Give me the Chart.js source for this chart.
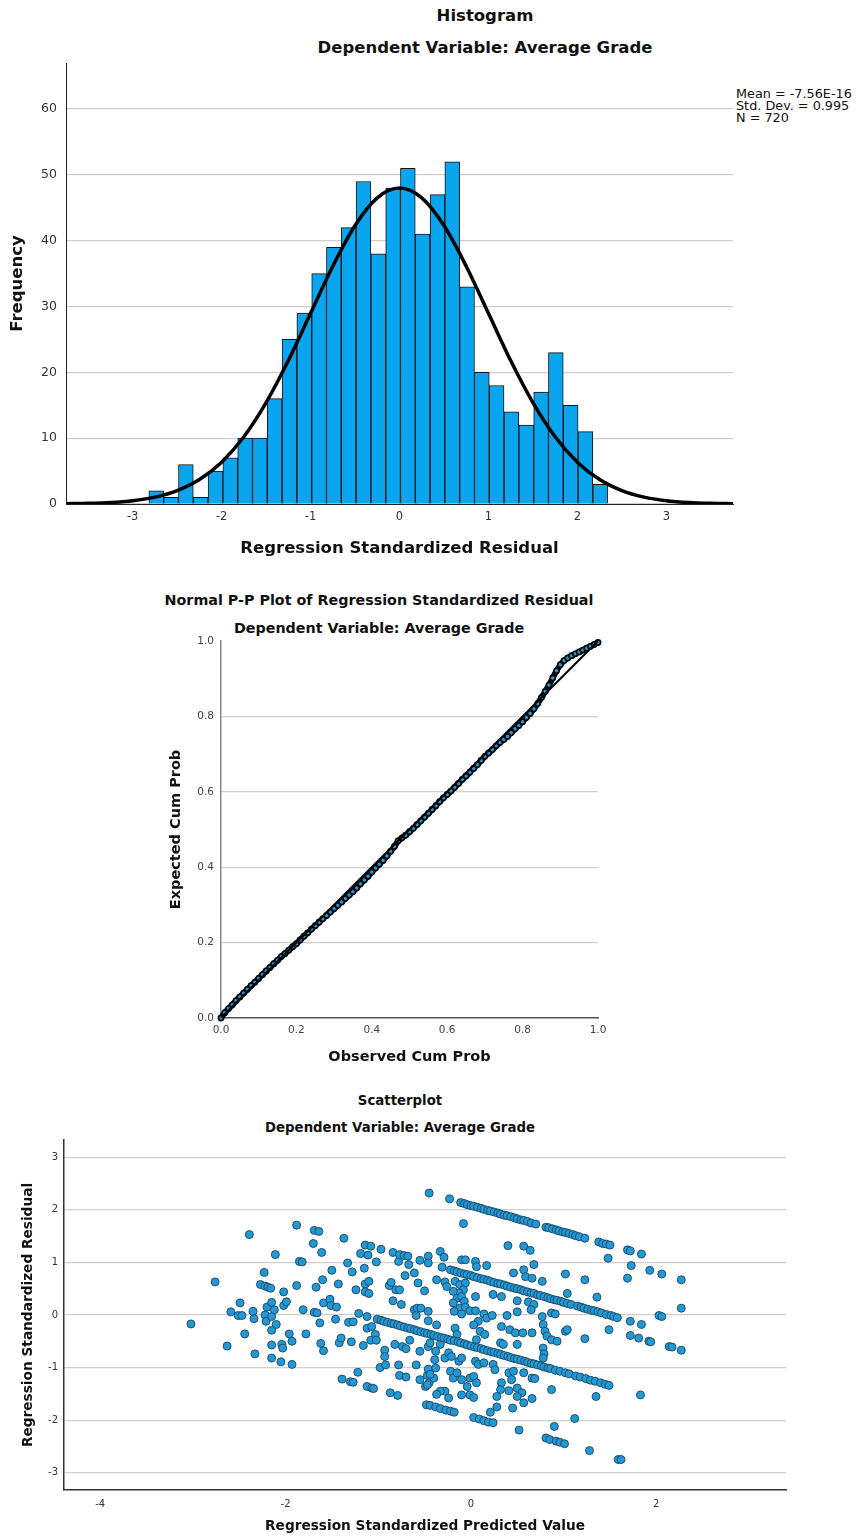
<!DOCTYPE html>
<html>
<head>
<meta charset="utf-8">
<title>Regression residual charts</title>
<script src="https://cdn.jsdelivr.net/npm/chart.js@4.4.1/dist/chart.umd.min.js"></script>
<style>
  body { margin: 0; background: #fff; width: 858px; height: 1537px; position: relative; overflow: hidden;
         font-family: "DejaVu Sans", sans-serif; color: #111; }
  .ttl { position: absolute; width: 700px; text-align: center; font-weight: bold; white-space: nowrap; }
  canvas { position: absolute; left: 0; }
  #stats { position: absolute; left: 736px; top: 88px; white-space: nowrap;
           font: 12.8px/12px "DejaVu Sans", sans-serif; color: #111; }
</style>
</head>
<body>

<div class="ttl" style="left:135px;top:6px;font-size:16.5px;line-height:20px">Histogram</div>
<div class="ttl" style="left:135px;top:38px;font-size:16.5px;line-height:20px">Dependent Variable: Average Grade</div>
<div id="stats">Mean = -7.56E-16<br>Std. Dev. = 0.995<br>N = 720</div>
<canvas id="hist" width="858" height="570" style="top:0"></canvas>

<div class="ttl" style="left:29px;top:591px;font-size:14.3px;line-height:18px">Normal P-P Plot of Regression Standardized Residual</div>
<div class="ttl" style="left:29px;top:619px;font-size:14.3px;line-height:18px">Dependent Variable: Average Grade</div>
<canvas id="pp" width="858" height="500" style="top:580px"></canvas>

<div class="ttl" style="left:50px;top:1093px;font-size:13.3px;line-height:16px">Scatterplot</div>
<div class="ttl" style="left:50px;top:1120px;font-size:13.3px;line-height:16px">Dependent Variable: Average Grade</div>
<canvas id="scat" width="858" height="447" style="top:1090px"></canvas>

<script>
// histogram bins (centre of each bin) and counts, N = 720
var binMid = [-2.735,-2.569,-2.402,-2.236,-2.069,-1.903,-1.736,-1.570,-1.404,-1.237,-1.071,
              -0.904,-0.738,-0.572,-0.405,-0.239,-0.072,0.094,0.260,0.427,0.593,0.760,
              0.926,1.092,1.259,1.425,1.592,1.758,1.925,2.091,2.257];
var binCount = [2,1,6,1,5,7,10,10,16,25,29,35,39,42,49,38,48,51,41,47,52,33,20,18,14,12,17,23,15,11,3];

// normal curve
var curveX = [-3.75,-3.5,-3.25,-3,-2.75,-2.5,-2.25,-2,-1.75,-1.5,-1.25,-1,-0.75,-0.5,-0.25,0,
              0.25,0.5,0.75,1,1.25,1.5,1.75,2,2.25,2.5,2.75,3,3.25,3.5,3.75];
var curveY = [0.04,0.10,0.23,0.51,1.05,2.04,3.72,6.36,10.22,15.41,21.80,28.97,36.13,42.31,46.51,48.00,
              46.51,42.31,36.13,28.97,21.80,15.41,10.22,6.36,3.72,2.04,1.05,0.51,0.23,0.10,0.04];

// P-P plot
var ppObserved = [0.00,0.01,0.02,0.03,0.04,0.05,0.06,0.07,0.08,0.09,0.10,0.11,0.12,0.13,0.14,0.15,0.16,0.17,0.18,0.19,
                  0.20,0.21,0.22,0.23,0.24,0.25,0.26,0.27,0.28,0.29,0.30,0.31,0.32,0.33,0.34,0.35,0.36,0.37,0.38,0.39,
                  0.40,0.41,0.42,0.43,0.44,0.45,0.46,0.47,0.48,0.49,0.50,0.51,0.52,0.53,0.54,0.55,0.56,0.57,0.58,0.59,
                  0.60,0.61,0.62,0.63,0.64,0.65,0.66,0.67,0.68,0.69,0.70,0.71,0.72,0.73,0.74,0.75,0.76,0.77,0.78,0.79,
                  0.80,0.81,0.82,0.83,0.84,0.85,0.86,0.87,0.88,0.89,0.90,0.91,0.92,0.93,0.94,0.95,0.96,0.97,0.98,0.99,1.00];
var ppExpected = [0.000,0.014,0.025,0.035,0.046,0.056,0.066,0.076,0.086,0.095,0.105,0.115,0.125,0.134,0.144,0.153,0.163,0.171,0.180,0.189,
                  0.197,0.207,0.217,0.226,0.236,0.245,0.254,0.263,0.272,0.281,0.290,0.299,0.308,0.317,0.326,0.335,0.345,0.356,0.366,0.376,
                  0.387,0.398,0.408,0.418,0.430,0.442,0.455,0.470,0.478,0.485,0.494,0.503,0.513,0.523,0.533,0.543,0.553,0.563,0.574,0.584,
                  0.593,0.602,0.612,0.622,0.633,0.642,0.652,0.662,0.672,0.683,0.694,0.703,0.712,0.722,0.731,0.739,0.747,0.757,0.767,0.776,
                  0.786,0.797,0.808,0.820,0.834,0.850,0.866,0.883,0.902,0.921,0.937,0.948,0.955,0.961,0.966,0.971,0.976,0.981,0.986,0.991,0.996];

// scatterplot: [predicted, residual]
var cloudLeft = [[-3.02,-0.17],[-2.76,0.63],[-2.63,-0.59],[-2.59,0.06],[-2.51,-0.01],[-2.49,0.23],[-2.47,-0.01],[-2.44,-0.36],
  [-2.39,1.53],[-2.35,0.07],[-2.34,-0.07],[-2.33,-0.74],[-2.27,0.58],[-2.23,0.81],[-2.22,0.55],[-2.22,0.00],[-2.21,-0.12],
  [-2.20,0.15],[-2.19,0.53],[-2.16,0.51],[-2.15,0.24],[-2.15,-0.03],[-2.15,-0.29],[-2.15,-0.57],[-2.15,-0.82],[-2.12,0.10],
  [-2.11,1.15],[-2.10,-0.18],[-2.05,-0.89],[-2.04,-0.56],[-2.03,-0.63],[-2.02,0.44],[-2.02,0.18],[-1.99,0.25],[-1.96,-0.36],
  [-1.93,-0.50],[-1.93,-0.94],[-1.88,1.71],[-1.88,0.56],[-1.85,1.02],[-1.82,1.01],[-1.81,0.10],[-1.78,-0.36],[-1.70,1.36],
  [-1.69,1.61],[-1.69,0.05],[-1.67,0.53],[-1.66,0.04],[-1.64,1.59],[-1.63,-0.15],[-1.62,-0.54],[-1.61,1.19],[-1.60,0.67],
  [-1.59,-0.68],[-1.59,0.23],[-1.52,0.30],[-1.51,0.18],[-1.50,0.85],[-1.46,-0.08],[-1.45,0.15],[-1.43,0.59],[-1.42,-0.53],
  [-1.40,-0.44],[-1.39,-1.22],[-1.37,1.46],[-1.33,0.99],[-1.32,-0.14],[-1.30,-1.27],[-1.29,-0.51],[-1.27,-1.28],[-1.28,0.82],
  [-1.27,-0.13],[-1.24,0.48],[-1.22,-1.09],[-1.21,0.03],[-1.19,1.17],[-1.16,-0.58],[-1.15,0.89],[-1.14,0.59],[-1.14,1.33],
  [-1.14,0.44],[-1.12,-1.36],[-1.12,-0.03],[-1.12,-0.25],[-1.11,1.14],[-1.10,0.64],[-1.10,0.41],[-1.08,1.31],[-1.08,-0.48],
  [-1.07,-1.39],[-1.07,-0.22],[-1.05,-1.40],[-1.03,-0.37],[-1.02,1.01],[-1.02,-0.48]];
var cloudCentre = [[-0.98,-1.00],[-0.97,1.25],[-0.93,-0.67],[-0.93,-0.79],[-0.92,-0.95],[-0.88,0.56],[-0.87,-1.48],[-0.86,0.62],
  [-0.84,1.19],[-0.84,0.27],[-0.82,-0.56],[-0.81,0.48],[-0.79,-1.53],[-0.78,1.02],[-0.78,-0.95],[-0.77,1.15],[-0.77,0.48],
  [-0.77,-1.15],[-0.75,0.20],[-0.74,-0.60],[-0.72,1.13],[-0.71,0.75],[-0.70,-1.18],[-0.70,-0.64],[-0.68,1.12],[-0.67,0.96],
  [-0.66,-0.48],[-0.61,0.80],[-0.61,0.10],[-0.59,-0.95],[-0.59,-0.01],[-0.58,0.13],[-0.57,0.61],[-0.55,1.04],[-0.55,-0.69],
  [-0.55,-1.23],[-0.54,0.13],[-0.50,0.46],[-0.49,-1.36],[-0.48,-1.71],[-0.47,-1.15],[-0.46,0.07],[-0.45,-1.29],[-0.45,2.32],
  [-0.46,1.12],[-0.46,0.99],[-0.46,-0.11],[-0.46,-0.60],[-0.46,-1.03],
  [-0.33,1.21],[-0.29,1.10],[-0.10,1.05],[-0.06,1.05],[-0.37,0.67],[-0.28,0.63],[-0.26,0.54],[-0.17,0.64],[-0.12,0.58],
  [-0.06,0.61],[-0.08,0.48],[-0.13,0.42],[-0.19,0.45],[-0.15,0.32],[-0.10,0.35],[-0.07,0.26],[-0.19,0.23],[-0.12,0.13],
  [-0.06,0.15],[-0.18,0.07],[-0.10,0.02],[-0.01,0.08],[-0.37,-0.19],[-0.17,-0.25],[-0.15,-0.37],[-0.39,-0.85],[-0.28,-0.82],
  [-0.24,-0.72],[-0.21,-0.79],[-0.13,-0.88],[-0.10,-0.82],[-0.22,-1.07],[-0.19,-1.20],[-0.15,-1.10],[-0.10,-1.23],[-0.01,-1.20],
  [-0.04,-1.36],[-0.10,-1.52],[-0.01,-1.52],[-0.40,-1.20],[-0.28,-1.45],[-0.24,-1.58],[-0.33,-1.45],[-0.37,-1.51],[-0.44,-0.53],
  [-0.44,-1.13],[-0.31,0.91],[-0.38,-0.69],[-0.33,-0.56],[-0.38,-1.01],[-0.47,-1.33],[-0.23,2.21],[-0.08,1.74],
  [-0.44,-1.72],[-0.38,-1.75],[-0.33,-1.78],[-0.27,-1.81],[-0.22,-1.83],[-0.18,-1.85]];
var cloudRight = [[0.40,1.32],[0.57,1.31],[0.64,1.23],[0.05,1.02],[0.06,0.92],[0.17,0.94],[0.46,0.80],[0.57,0.86],[0.59,0.73],
  [0.66,0.70],[0.68,0.96],[0.77,0.64],[1.02,0.78],[1.23,0.67],[1.36,0.34],[1.48,1.08],[0.05,0.35],[0.24,0.39],[0.33,0.35],
  [0.50,0.27],[0.62,0.25],[0.68,0.20],[0.65,0.10],[0.50,0.06],[0.39,-0.01],[0.14,0.02],[0.05,0.08],[0.08,-0.12],[0.17,-0.06],
  [0.23,-0.01],[0.03,-0.19],[0.10,-0.31],[0.15,-0.37],[0.06,-0.47],[0.33,-0.22],[0.42,-0.28],[0.48,-0.34],[0.56,-0.34],
  [0.66,-0.34],[0.77,-0.03],[0.87,0.04],[0.91,0.02],[0.78,-0.18],[0.80,-0.31],[0.82,-0.40],[0.87,-0.47],[0.93,-0.50],
  [1.02,-0.31],[1.04,-0.28],[1.23,-0.45],[1.49,-0.28],[0.78,-0.63],[0.79,-0.74],[0.78,-0.82],[0.32,-0.53],[0.35,-0.56],
  [0.50,-0.56],[0.05,-0.88],[0.08,-0.94],[0.14,-0.91],[0.24,-0.94],[0.26,-1.04],[0.03,-1.17],[0.41,-1.10],[0.46,-1.07],
  [0.57,-1.10],[0.44,-1.23],[0.66,-1.20],[0.69,-1.21],[0.06,-1.29],[0.33,-1.29],[0.32,-1.42],[0.41,-1.44],[0.50,-1.39],
  [0.55,-1.48],[0.50,-1.55],[0.66,-1.59],[0.28,-1.55],[0.03,-1.57],[0.87,-1.42],[1.35,-1.55],[1.04,0.41]];
var cloudFar = [[1.69,0.70],[1.73,0.94],[1.93,0.85],[2.06,0.78],[2.27,0.67],[2.27,0.13],[2.03,-0.01],[2.06,-0.03],[1.72,-0.12],
  [1.84,-0.18],[1.72,-0.39],[1.81,-0.44],[1.92,-0.50],[1.94,-0.51],[2.14,-0.60],[2.17,-0.61],[2.27,-0.67],[1.83,-1.52],
  [1.12,-1.97],[0.90,-2.12],[0.81,-2.34],[0.85,-2.37],[0.92,-2.40],[0.96,-2.42],[1.01,-2.45],[1.28,-2.58],[1.59,-2.75],
  [1.62,-2.75],[0.52,-2.19],[0.21,-1.85],[0.28,-1.75],[0.45,-1.77],[0.57,-1.67],[0.03,-1.95],[0.09,-1.98],[0.14,-2.01],
  [0.19,-2.04],[0.24,-2.05]];
var bandUpper = [[-0.11,2.14],[-0.07,2.12],[-0.04,2.10],[0.00,2.08],[0.03,2.07],[0.07,2.05],[0.11,2.03],[0.14,2.01],[0.18,1.99],
  [0.21,1.98],[0.25,1.96],[0.29,1.94],[0.32,1.92],[0.36,1.90],[0.39,1.89],[0.43,1.87],[0.47,1.85],[0.50,1.83],[0.54,1.81],
  [0.57,1.80],[0.61,1.78],[0.65,1.75],[0.70,1.73],[0.81,1.67],[0.84,1.66],[0.88,1.64],[0.92,1.62],[0.95,1.60],[0.99,1.58],
  [1.02,1.57],[1.06,1.55],[1.10,1.53],[1.13,1.51],[1.17,1.49],[1.23,1.46],[1.38,1.39],[1.42,1.36],[1.46,1.35],[1.50,1.33],
  [1.69,1.24],[1.72,1.22],[1.84,1.16]];
var bandMiddle = [[-0.22,0.86],[-0.18,0.84],[-0.15,0.82],[-0.11,0.80],[-0.07,0.78],[-0.04,0.77],[0.00,0.75],[0.03,0.73],
  [0.07,0.71],[0.11,0.69],[0.14,0.68],[0.18,0.66],[0.21,0.64],[0.25,0.62],[0.29,0.60],[0.32,0.59],[0.36,0.57],[0.39,0.55],
  [0.43,0.53],[0.47,0.51],[0.50,0.50],[0.54,0.48],[0.57,0.46],[0.61,0.44],[0.65,0.42],[0.68,0.41],[0.72,0.38],[0.75,0.37],
  [0.79,0.35],[0.83,0.33],[0.86,0.31],[0.90,0.29],[0.93,0.28],[0.97,0.26],[1.00,0.24],[1.04,0.22],[1.08,0.20],[1.15,0.17],
  [1.19,0.15],[1.22,0.13],[1.26,0.11],[1.30,0.09],[1.33,0.08],[1.37,0.06],[1.41,0.04],[1.46,0.01],[1.51,-0.01],[1.54,-0.03],
  [1.58,-0.05]];
var bandLower = [[-1.01,-0.08],[-0.97,-0.10],[-0.94,-0.12],[-0.90,-0.14],[-0.86,-0.16],[-0.83,-0.17],[-0.79,-0.19],[-0.76,-0.21],
  [-0.72,-0.23],[-0.68,-0.25],[-0.65,-0.26],[-0.61,-0.28],[-0.58,-0.30],[-0.54,-0.32],[-0.50,-0.34],[-0.47,-0.35],[-0.43,-0.37],
  [-0.40,-0.39],[-0.36,-0.41],[-0.32,-0.43],[-0.29,-0.44],[-0.25,-0.46],[-0.22,-0.48],[-0.18,-0.49],[-0.14,-0.51],[-0.11,-0.53],
  [-0.07,-0.55],[-0.04,-0.57],[0.00,-0.59],[0.04,-0.61],[0.07,-0.62],[0.11,-0.64],[0.14,-0.66],[0.18,-0.68],[0.22,-0.70],
  [0.25,-0.71],[0.29,-0.73],[0.32,-0.75],[0.36,-0.77],[0.40,-0.79],[0.43,-0.81],[0.47,-0.83],[0.50,-0.84],[0.54,-0.86],
  [0.58,-0.88],[0.61,-0.90],[0.65,-0.92],[0.68,-0.93],[0.72,-0.95],[0.76,-0.97],[0.79,-0.99],[0.83,-1.01],[0.86,-1.02],
  [0.91,-1.05],[0.96,-1.07],[1.02,-1.10],[1.06,-1.12],[1.13,-1.16],[1.18,-1.18],[1.24,-1.21],[1.29,-1.24],[1.34,-1.26],
  [1.40,-1.29],[1.45,-1.32],[1.49,-1.34]];

var FONT = '"DejaVu Sans", sans-serif';
Chart.defaults.font.family = FONT;
Chart.defaults.color = '#333';

function noShow() { return {legend: {display: false}, tooltip: {enabled: false}}; }
function axisTitle(text, size, pad) {
    return {display: true, text: text, color: '#111', font: {size: size, weight: 'bold'}, padding: pad};
}

// histogram
new Chart(document.getElementById('hist'), {
    type: 'bar',
    data: {
        datasets: [{
            type: 'line',
            data: curveX.map(function(x, i) { return {x: x, y: curveY[i]}; }),
            borderColor: '#000', borderWidth: 3.5, pointRadius: 0,
            cubicInterpolationMode: 'monotone', order: 0
        }, {
            type: 'bar',
            data: binMid.map(function(x, i) { return {x: x, y: binCount[i]}; }),
            backgroundColor: '#0aa5ef', borderColor: '#111', borderWidth: 1,
            barPercentage: 1, categoryPercentage: 1, order: 1
        }]
    },
    options: {
        responsive: false, animation: false, devicePixelRatio: 1,
        layout: {padding: {top: 63, right: 125, left: 0, bottom: 0}},
        plugins: noShow(),
        scales: {
            x: {
                type: 'linear', min: -3.75, max: 3.75, offset: false,
                ticks: {stepSize: 1, includeBounds: false, padding: 6, maxRotation: 0, color: '#333', font: {size: 11.5}},
                grid: {display: false, drawTicks: false},
                border: {color: '#222', width: 1},
                title: axisTitle('Regression Standardized Residual', 16.5, {top: 0, bottom: 11}),
                afterFit: function(s) { s.height = 66; }
            },
            y: {
                min: 0, max: 67,
                ticks: {stepSize: 10, includeBounds: false, padding: 9, color: '#333', font: {size: 12.5}},
                grid: {color: '#cfcfcf', lineWidth: 1.2, drawTicks: false},
                border: {color: '#222', width: 1},
                title: axisTitle('Frequency', 16.5, {top: 8, bottom: 0}),
                afterFit: function(s) { s.width = 66; }
            }
        }
    }
});

// normal P-P plot
new Chart(document.getElementById('pp'), {
    type: 'scatter',
    data: {
        datasets: [{
            type: 'line',
            data: [{x: 0, y: 0}, {x: 1, y: 1}],
            borderColor: '#000', borderWidth: 2, pointRadius: 0, order: 0
        }, {
            data: ppObserved.map(function(x, i) { return {x: x, y: ppExpected[i]}; }),
            showLine: true, borderColor: '#000', borderWidth: 6,
            pointBackgroundColor: '#1e9ad6', pointBorderColor: '#000', pointBorderWidth: 1.6,
            pointRadius: 2.6, clip: false, order: 1
        }]
    },
    options: {
        responsive: false, animation: false, devicePixelRatio: 1,
        layout: {padding: {top: 61, right: 260, left: 160, bottom: 0}},
        plugins: noShow(),
        scales: {
            x: {
                type: 'linear', min: 0, max: 1,
                ticks: {stepSize: 0.2, padding: 6, maxRotation: 0, color: '#444', font: {size: 10.5},
                        callback: function(v) { return v.toFixed(1); }},
                grid: {display: false, drawTicks: false},
                border: {color: '#555', width: 1.5},
                title: axisTitle('Observed Cum Prob', 14.5, {top: 0, bottom: 14}),
                afterFit: function(s) { s.height = 62; }
            },
            y: {
                min: 0, max: 1,
                ticks: {stepSize: 0.2, padding: 7, color: '#444', font: {size: 10.5},
                        callback: function(v) { return v.toFixed(1); }},
                grid: {drawTicks: false, lineWidth: 1.2,
                       color: function(c) {
                           var v = c.tick ? c.tick.value : 0;
                           return (v < 0.01 || v > 0.99) ? 'rgba(0,0,0,0)' : '#cfcfcf';
                       }},
                border: {color: '#888', width: 1.5},
                title: axisTitle('Expected Cum Prob', 14.5, {top: 8, bottom: 0}),
                afterFit: function(s) { s.width = 61; }
            }
        }
    }
});

// residuals vs predicted
var allPts = [].concat(cloudLeft, cloudCentre, cloudRight, cloudFar, bandUpper, bandMiddle, bandLower);
new Chart(document.getElementById('scat'), {
    type: 'scatter',
    data: {
        datasets: [{
            data: allPts.map(function(p) { return {x: p[0], y: p[1]}; }),
            backgroundColor: '#2399d4', borderColor: '#1d4f70', borderWidth: 1, pointRadius: 4
        }]
    },
    options: {
        responsive: false, animation: false, devicePixelRatio: 1,
        layout: {padding: {top: 50, right: 72, left: 0, bottom: 0}},
        plugins: noShow(),
        scales: {
            x: {
                type: 'linear', min: -4.39, max: 3.40,
                ticks: {stepSize: 2, includeBounds: false, padding: 8, maxRotation: 0, color: '#333', font: {size: 10}},
                grid: {display: false, drawTicks: false},
                border: {color: '#333', width: 1.5},
                title: axisTitle('Regression Standardized Predicted Value', 13.7, {top: 0, bottom: 2}),
                afterFit: function(s) { s.height = 47; }
            },
            y: {
                min: -3.33, max: 3.33,
                ticks: {stepSize: 1, includeBounds: false, padding: 6, color: '#333', font: {size: 10}},
                grid: {color: '#cfcfcf', lineWidth: 1.2, drawTicks: false},
                border: {color: '#333', width: 1.5},
                title: axisTitle('Regression Standardized Residual', 13.7, {top: 20, bottom: 0}),
                afterFit: function(s) { s.width = 64; }
            }
        }
    }
});
</script>
</body>
</html>
